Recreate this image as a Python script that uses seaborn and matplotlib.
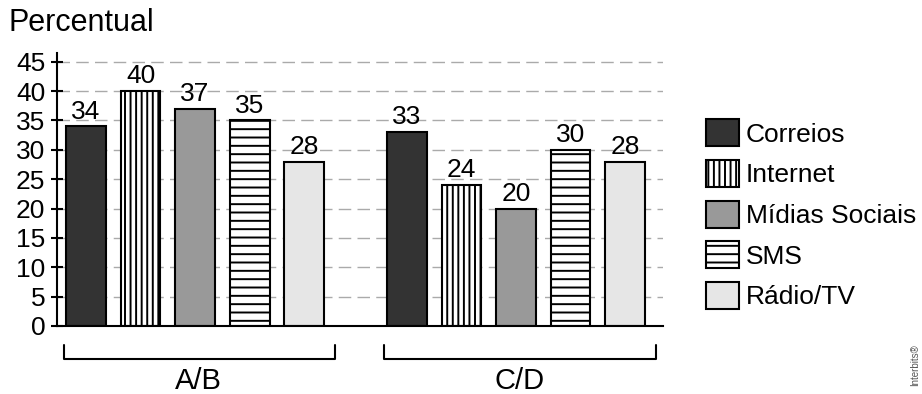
import matplotlib
matplotlib.use("Agg")
import matplotlib.pyplot as plt
import seaborn as sb
import pandas as pd

# data
grupos = ["A/B", "C/D"]
meios = ["Correios", "Internet", "Mídias Sociais", "SMS", "Rádio/TV"]
valores_ab = [34, 40, 37, 35, 28]
valores_cd = [33, 24, 20, 30, 28]
cores = ["#333333", "#ffffff", "#999999", "#ffffff", "#e6e6e6"]
hachuras = ["", "|||", "", "--", ""]
yticks = list(range(0, 50, 5))

df = pd.DataFrame({
    "grupo": [g for g in grupos for _ in meios],
    "meio": meios * 2,
    "valor": valores_ab + valores_cd,
})

sb.set_theme(style="white")
plt.rcParams["font.family"] = ["Liberation Sans", "DejaVu Sans"]
plt.rcParams["hatch.linewidth"] = 1.4
for k in ["text.color", "axes.labelcolor", "xtick.color", "ytick.color"]:
    plt.rcParams[k] = "black"

fig = plt.figure(figsize=(9.22, 3.94), dpi=100)
ax = fig.add_axes([0.062, 0.1726, 0.657, 0.693])

sb.barplot(data=df, x="grupo", y="valor", hue="meio", hue_order=meios,
           palette=cores, saturation=1, edgecolor="black", linewidth=1.5,
           width=0.85, gap=0.27, legend=False, ax=ax)

for cont, h in zip(ax.containers, hachuras):
    for p in cont.patches:
        p.set_hatch(h)
    ax.bar_label(cont, padding=2, fontsize=19, color="black")

ax.set_ylim(0, 46.5)
ax.set_xlim(-0.43, 1.458)
ax.set_yticks(yticks)
ax.yaxis.grid(True, color="#aaaaaa", linestyle=(0, (9, 4.5)), linewidth=1)
ax.set_axisbelow(True)
ax.tick_params(axis="y", direction="inout", length=9, width=1.5, pad=4,
               labelsize=19, left=True, colors="black")
ax.set_xticks([])
ax.set_xlabel("")
ax.set_ylabel("")
sb.despine(ax=ax)
for s in ["left", "bottom"]:
    ax.spines[s].set_linewidth(1.5)
    ax.spines[s].set_color("black")

# group brackets under the axis
trans = ax.get_xaxis_transform()
for i, g in enumerate(grupos):
    x0, x1 = i - 0.41, i + 0.435
    ax.plot([x0, x0, x1, x1], [-0.07, -0.121, -0.121, -0.07], color="black",
            linewidth=1.5, transform=trans, clip_on=False)
    ax.text(i + 0.01, -0.2, g, transform=trans, ha="center", va="center",
            fontsize=21, color="black")

fig.text(0.009, 0.98, "Percentual", ha="left", va="top", fontsize=22,
         color="black")

leg = ax.legend(ax.containers, meios, loc="upper left",
                bbox_to_anchor=(0.766, 0.697), bbox_transform=fig.transFigure,
                frameon=False, fontsize=19, borderpad=0, handlelength=1.25,
                handleheight=1.2, labelspacing=0.5, handletextpad=0.25,
                borderaxespad=0)
for t in leg.get_texts():
    t.set_color("black")

fig.text(0.993, 0.02, "Interbits®", rotation=90, ha="center", va="bottom",
         fontsize=7, color="#555555")

fig.savefig("out.png", dpi=100)
